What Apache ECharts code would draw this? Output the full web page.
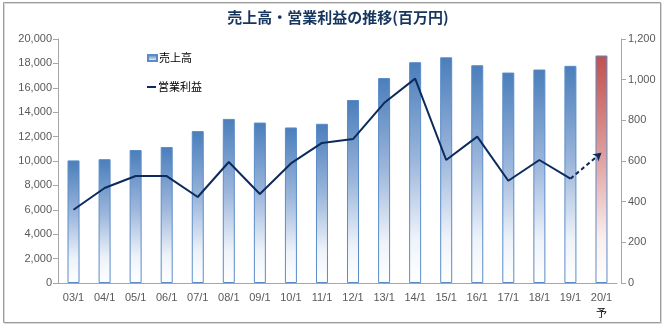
<!DOCTYPE html>
<html>
<head>
<meta charset="utf-8">
<script src="https://cdn.jsdelivr.net/npm/echarts@6/dist/echarts.min.js"></script>
<style>
  html, body { margin: 0; padding: 0; background: #fff; }
  #chart { width: 669px; height: 327px; }
</style>
</head>
<body>
<div id="chart"></div>
<script>
// Fiscal periods (year/month)
const categories = ['03/1','04/1','05/1','06/1','07/1','08/1','09/1','10/1','11/1',
                    '12/1','13/1','14/1','15/1','16/1','17/1','18/1','19/1','20/1'];
// 売上高 (百万円)
const sales = [10050, 10150, 10900, 11150, 12450, 13450, 13150, 12750, 13050,
               15000, 16800, 18100, 18500, 17850, 17250, 17500, 17800, 18650];
// 営業利益 (百万円)
const profit = [360, 467, 526, 526, 423, 595, 438, 588, 689,
                708, 885, 1005, 605, 720, 503, 605, 513, 641];
// Left / right axis ranges
const salesAxis = { min: 0, max: 20000, interval: 2000 };
const profitAxis = { min: 0, max: 1200, interval: 200 };
// The last period is a forecast (予)
const forecastIndex = categories.length - 1;

const navy = '#0d2a5c';
const axisGray = '#a6a6a6';
const labelGray = '#595959';

const blueFill = new echarts.graphic.LinearGradient(0, 0, 0, 1, [
  { offset: 0, color: '#4a7ebb' },
  { offset: 0.45, color: '#9db7dc' },
  { offset: 0.8, color: '#eef3fa' },
  { offset: 1, color: '#ffffff' }
]);
const redFill = new echarts.graphic.LinearGradient(0, 0, 0, 1, [
  { offset: 0, color: '#c0504d' },
  { offset: 0.45, color: '#dfa09f' },
  { offset: 0.8, color: '#fbeeee' },
  { offset: 1, color: '#ffffff' }
]);

const fmt = v => String(v).replace(/\B(?=(\d{3})+(?!\d))/g, ',');

const chart = echarts.init(document.getElementById('chart'), null, { renderer: 'canvas' });

chart.setOption({
  animation: false,
  backgroundColor: '#ffffff',
  textStyle: { fontFamily: 'Liberation Sans, Noto Sans CJK JP, sans-serif' },
  graphic: [
    {
      type: 'rect', silent: true, z: -1,
      shape: { x: 4.5, y: 3.5, width: 657, height: 320 },
      style: { fill: 'none', stroke: '#d9d9d9', lineWidth: 1 }
    },
    {
      type: 'rect', silent: true, z: 0,
      shape: { x: 3.5, y: 2.5, width: 657, height: 320 },
      style: { fill: 'none', stroke: '#9c9c9c', lineWidth: 1 }
    },
    {
      type: 'text', silent: true,
      x: 338, y: 17,
      style: {
        text: '売上高・営業利益の推移(百万円)',
        fontFamily: 'Noto Sans CJK JP',
        fontWeight: 'bold',
        fontSize: 15,
        fill: '#17365d',
        align: 'center',
        verticalAlign: 'middle'
      }
    }
  ],
  legend: [
    {
      left: 142, top: 46,
      itemWidth: 9, itemHeight: 6,
      data: [{ name: '売上高', icon: 'rect' }],
      textStyle: { fontFamily: 'Noto Sans CJK JP', fontSize: 11, color: '#000', lineHeight: 14, padding: [0, 0, 0, -3] }
    },
    {
      left: 142, top: 75,
      itemWidth: 9, itemHeight: 2,
      data: [{ name: '営業利益', icon: 'rect' }],
      textStyle: { fontFamily: 'Noto Sans CJK JP', fontSize: 11, color: '#000', lineHeight: 14, padding: [0, 0, 0, -3] }
    }
  ],
  grid: { left: 58, right: 52, top: 39, bottom: 44, containLabel: false },
  xAxis: {
    type: 'category',
    data: categories,
    axisLine: { lineStyle: { color: axisGray } },
    axisTick: { length: 4, lineStyle: { color: axisGray } },
    axisLabel: {
      color: labelGray, fontSize: 11, margin: 7, lineHeight: 15, interval: 0,
      formatter: (v, i) => i === forecastIndex ? v + '\n{f|予}' : v,
      rich: { f: { color: '#000', fontSize: 11, fontFamily: 'Noto Sans CJK JP', lineHeight: 15 } }
    },
    splitLine: { show: false }
  },
  yAxis: [
    {
      type: 'value',
      min: salesAxis.min, max: salesAxis.max, interval: salesAxis.interval,
      axisLine: { show: true, lineStyle: { color: axisGray } },
      axisTick: { show: true, length: 5, lineStyle: { color: axisGray } },
      axisLabel: { color: labelGray, fontSize: 11, margin: 6, formatter: fmt },
      splitLine: { show: false }
    },
    {
      type: 'value',
      position: 'right',
      offset: 4,
      min: profitAxis.min, max: profitAxis.max, interval: profitAxis.interval,
      axisLine: { show: true, lineStyle: { color: axisGray } },
      axisTick: { show: true, length: 5, lineStyle: { color: axisGray } },
      axisLabel: { color: labelGray, fontSize: 11, margin: 7, formatter: fmt },
      splitLine: { show: false }
    }
  ],
  series: [
    {
      name: '売上高',
      type: 'bar',
      yAxisIndex: 0,
      barWidth: 12,
      itemStyle: { color: blueFill, borderColor: '#5b8cc8', borderWidth: 1 },
      data: sales.map((v, i) => i === forecastIndex
        ? { value: v, itemStyle: { color: redFill } }
        : v)
    },
    {
      name: '営業利益',
      type: 'line',
      yAxisIndex: 1,
      showSymbol: false,
      symbol: 'none',
      lineStyle: { color: navy, width: 2 },
      itemStyle: { color: navy },
      z: 3,
      data: profit.map((v, i) => i < forecastIndex ? v : '-'),
      markLine: {
        silent: true,
        symbol: ['none', 'arrow'],
        symbolSize: [7, 8],
        label: { show: false },
        lineStyle: { color: navy, width: 2, type: [4, 3] },
        data: [[
          { coord: [categories[forecastIndex - 1], profit[forecastIndex - 1]] },
          { coord: [categories[forecastIndex], profit[forecastIndex]] }
        ]]
      }
    }
  ]
});
</script>
</body>
</html>
